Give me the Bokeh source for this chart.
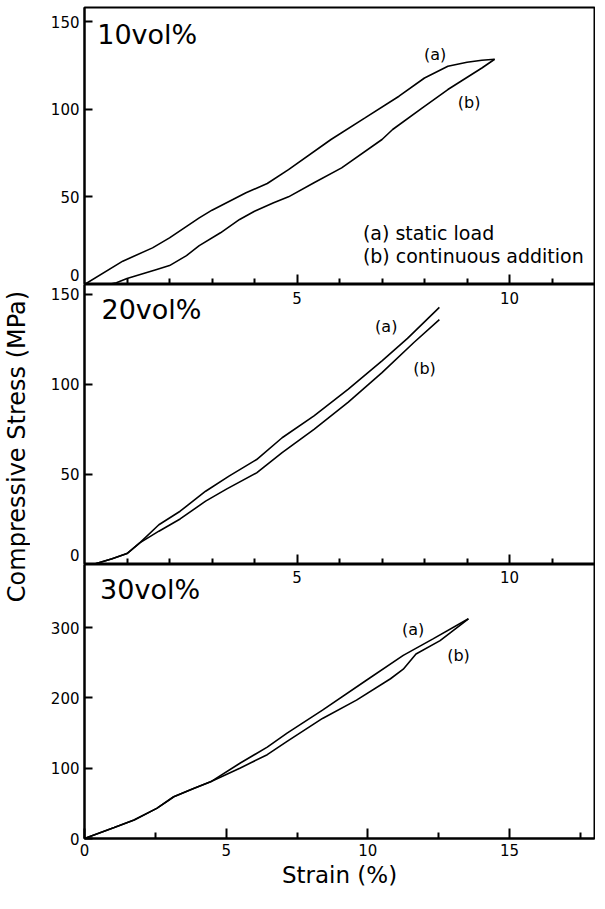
import math
from bokeh.plotting import figure
from bokeh.layouts import column, row
from bokeh.models import Range1d, FixedTicker, Label
from bokeh.core.properties import value
from bokeh.embed import file_html
from bokeh.resources import INLINE

FONT = "DejaVu Sans"

# ---------------- data ----------------
# 10 vol%
P1_A_X = [0.0, 0.9, 1.6, 2.0, 2.7, 3.0, 3.8, 4.3, 4.8, 5.8, 6.6, 7.4, 8.0, 8.55, 9.0, 9.35, 9.65]
P1_A_Y = [0.0, 13.3, 20.9, 26.6, 38.0, 42.4, 52.3, 57.6, 65.5, 82.7, 95.0, 107.4, 117.8, 124.5, 126.8, 127.9, 128.5]
P1_B_X = [0.55, 0.75, 1.0, 1.7, 2.0, 2.4, 2.7, 3.2, 3.65, 4.0, 4.45, 4.8, 5.4, 6.05, 7.0, 7.25, 7.95, 8.55, 9.35, 9.65]
P1_B_Y = [0.0, 1.0, 3.4, 8.6, 10.8, 16.5, 22.2, 29.5, 37.1, 41.8, 46.6, 50.0, 58.0, 66.5, 82.7, 88.4, 100.7, 111.2, 123.5, 128.5]
# 20 vol%
P2_A_X = [0.2, 0.65, 1.0, 1.3, 1.75, 2.25, 2.85, 3.4, 4.05, 4.65, 5.4, 6.2, 7.0, 7.6, 8.35]
P2_A_Y = [0.0, 3.2, 6.1, 12.0, 22.1, 29.6, 40.7, 49.1, 58.3, 70.4, 82.5, 97.3, 113.1, 125.6, 142.8]
P2_B_X = [0.2, 0.65, 1.0, 1.3, 1.75, 2.25, 2.85, 3.35, 4.05, 4.65, 5.4, 6.2, 7.0, 7.75, 8.35]
P2_B_Y = [0.0, 3.2, 6.1, 12.0, 18.5, 25.3, 35.2, 42.0, 50.9, 62.1, 75.1, 90.0, 106.6, 123.3, 136.0]
# 30 vol%
P3_A_X = [0.0, 1.05, 1.75, 2.55, 3.15, 3.85, 4.45, 5.5, 6.45, 7.15, 8.4, 9.95, 11.25, 12.3, 13.55]
P3_A_Y = [0.0, 15.6, 26.4, 42.9, 59.4, 71.2, 80.7, 107.5, 130.0, 150.0, 182.7, 225.2, 260.6, 284.2, 312.7]
P3_B_X = [0.0, 1.05, 1.75, 2.55, 3.15, 3.85, 4.45, 5.5, 6.45, 7.15, 8.4, 9.6, 10.8, 11.25, 11.7, 12.55, 13.55]
P3_B_Y = [0.0, 15.6, 26.4, 42.9, 59.4, 71.2, 80.7, 100.4, 119.3, 138.2, 170.9, 196.9, 227.4, 241.0, 262.7, 281.6, 312.7]

PANEL_NAMES = ["10vol%", "20vol%", "30vol%"]
CURVE_TAGS = ["(a)", "(b)"]
LEGEND_TEXT = ["(a) static load", "(b) continuous addition"]
Y_TITLE = "Compressive Stress (MPa)"
X_TITLE = "Strain (%)"

# ticks
X12_MAJOR = [5, 10]
X12_MINOR = [1, 2, 3, 4, 6, 7, 8, 9, 11]
X12_LABELS = ["5", "10"]
X3_MAJOR = [0, 5, 10, 15]
X3_MINOR = [2.5, 7.5, 12.5, 17.5]
Y12_TICKS = [0, 50, 100, 150]
Y3_TICKS = [0, 100, 200, 300]

# axis extents
X12_MAX = 12.0
X3_MAX = 18.0
Y_MAX = [158.0, 155.5, 390.0]

# annotation positions (data units)
NAME_POS = [(0.3, 142.5), (0.4, 141.4), (0.55, 354.0)]
TAG_POS = [[(8.25, 131.0), (9.05, 104.0)],
           [(7.1, 132.0), (8.0, 109.0)],
           [(11.6, 297.0), (13.2, 260.0)]]
LEGEND_POS = [(6.55, 29.6), (6.55, 16.5)]

# ---------------- layout ----------------
LEFT = 54
TW = 30
W = 595 - TW
H1, H2 = 284, 280
FRAME3, BOT3 = 274, 54
H3 = FRAME3 + BOT3
TOTAL_H = H1 + H2 + H3


def style_yaxis(p, ticks, hide_zero):
    ax = p.yaxis[0]
    ax.ticker = FixedTicker(ticks=ticks)
    ax.major_tick_in = 8
    ax.major_tick_out = 0
    ax.minor_tick_in = 0
    ax.minor_tick_out = 0
    ax.axis_line_width = 2
    ax.major_tick_line_width = 2
    ax.major_label_text_font = FONT
    ax.major_label_text_font_size = "15px"
    ax.major_label_text_color = "black"
    ax.major_label_standoff = 5
    if hide_zero:
        ax.major_label_overrides = {0: ""}


def style_xaxis(ax, major, minor):
    ax.ticker = FixedTicker(ticks=major, minor_ticks=minor)
    ax.major_tick_in = 10
    ax.major_tick_out = 0
    ax.minor_tick_in = 6
    ax.minor_tick_out = 0
    ax.axis_line_width = 2
    ax.major_tick_line_width = 2
    ax.minor_tick_line_width = 2
    ax.minor_tick_line_color = "black"
    ax.major_label_text_font = FONT
    ax.major_label_text_color = "black"


def make_fig(height, xmax, ymax, top, bottom):
    p = figure(width=W, height=height, x_range=Range1d(0, xmax), y_range=Range1d(0, ymax),
               output_backend="svg", toolbar_location=None,
               min_border_left=LEFT, min_border_right=1, min_border_top=top, min_border_bottom=bottom)
    p.xgrid.visible = False
    p.ygrid.visible = False
    p.outline_line_color = "black"
    p.outline_line_width = 2
    p.outline_line_alpha = 1.0
    p.background_fill_color = "white"
    p.border_fill_color = "white"
    return p


def add_curves(p, ax, ay, bx, by):
    p.line(ax, ay, line_color="black", line_width=1.6)
    p.line(bx, by, line_color="black", line_width=1.6)


def add_texts(p, k):
    nx, ny = NAME_POS[k]
    p.text(x=[nx], y=[ny], text=[PANEL_NAMES[k]], text_font=value(FONT), text_font_size="27px",
           text_align="left", text_baseline="middle", text_color="black")
    p.text(x=[t[0] for t in TAG_POS[k]], y=[t[1] for t in TAG_POS[k]], text=CURVE_TAGS,
           text_font=value(FONT), text_font_size="16px", text_align="center",
           text_baseline="middle", text_color="black")


def zero_label(p):
    # the "0" of panels 1 and 2 sits just above the shared border line
    p.add_layout(Label(x=0, y=0, x_units="data", y_units="data", text="0", x_offset=-5,
                       y_offset=10, text_align="right", text_baseline="middle",
                       text_font=FONT, text_font_size="15px", text_color="black"), "left")


def hidden_label_xaxis(p):
    ax = p.xaxis[0]
    style_xaxis(ax, X12_MAJOR, X12_MINOR)
    ax.major_label_text_font_size = "0px"
    ax.major_label_standoff = 0
    ax.major_label_overrides = {5: "", 10: ""}


# panel 1
p1 = make_fig(H1, X12_MAX, Y_MAX[0], 7, 0)
style_yaxis(p1, Y12_TICKS, True)
hidden_label_xaxis(p1)
add_curves(p1, P1_A_X, P1_A_Y, P1_B_X, P1_B_Y)
add_texts(p1, 0)
p1.text(x=[q[0] for q in LEGEND_POS], y=[q[1] for q in LEGEND_POS], text=LEGEND_TEXT,
        text_font=value(FONT), text_font_size="19px", text_align="left",
        text_baseline="middle", text_color="black")
zero_label(p1)

# panel 2
p2 = make_fig(H2, X12_MAX, Y_MAX[1], 0, 0)
style_yaxis(p2, Y12_TICKS, True)
hidden_label_xaxis(p2)
add_curves(p2, P2_A_X, P2_A_Y, P2_B_X, P2_B_Y)
add_texts(p2, 1)
zero_label(p2)
# tick labels belonging to panel 1's strain axis
p2.text(x=X12_MAJOR, y=[Y_MAX[1]] * len(X12_MAJOR), text=X12_LABELS, text_font=value(FONT),
        text_font_size="15px", text_align="center", text_baseline="top", y_offset=7,
        text_color="black")

# panel 3
p3 = make_fig(H3, X3_MAX, Y_MAX[2], 0, BOT3)
p3.extra_x_ranges = {"x12": Range1d(0, X12_MAX)}
style_yaxis(p3, Y3_TICKS, False)
ax3 = p3.xaxis[0]
style_xaxis(ax3, X3_MAJOR, X3_MINOR)
ax3.major_label_text_font_size = "15px"
ax3.major_label_standoff = 5
ax3.axis_label = X_TITLE
ax3.axis_label_text_font = FONT
ax3.axis_label_text_font_size = "23px"
ax3.axis_label_text_font_style = "normal"
ax3.axis_label_text_color = "black"
ax3.axis_label_standoff = 3
add_curves(p3, P3_A_X, P3_A_Y, P3_B_X, P3_B_Y)
add_texts(p3, 2)
# tick labels belonging to panel 2's strain axis
p3.text(x=X12_MAJOR, y=[Y_MAX[2]] * len(X12_MAJOR), text=X12_LABELS, text_font=value(FONT),
        text_font_size="15px", text_align="center", text_baseline="top", y_offset=6,
        text_color="black", x_range_name="x12")

# y title strip
tf = figure(width=TW, height=TOTAL_H, x_range=Range1d(0, 1), y_range=Range1d(0, 1),
            output_backend="svg", toolbar_location=None, x_axis_location=None,
            y_axis_location=None, min_border=0)
tf.xgrid.visible = False
tf.ygrid.visible = False
tf.outline_line_color = None
tf.text(x=[0.55], y=[0.5], text=[Y_TITLE], angle=math.pi / 2, text_align="center",
        text_baseline="middle", text_font=value(FONT), text_font_size="24px", text_color="black")

layout = row(tf, column(p1, p2, p3, spacing=0), spacing=0)

open("out.html", "w").write(file_html(layout, INLINE))
